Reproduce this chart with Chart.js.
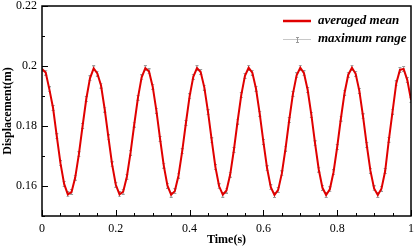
<!DOCTYPE html>
<html><head><meta charset="utf-8">
<script src="https://cdn.jsdelivr.net/npm/chart.js@4/dist/chart.umd.min.js"></script>
<style>html,body{margin:0;padding:0;background:#fff}canvas{display:block}</style>
</head><body>
<canvas id="c" width="416" height="248"></canvas>
<script>
const times = [0,0.01,0.02,0.03,0.04,0.05,0.06,0.07,0.08,0.09,0.1,0.11,0.12,0.13,0.14,0.15,0.16,0.17,0.18,0.19,0.2,0.21,0.22,0.23,0.24,0.25,0.26,0.27,0.28,0.29,0.3,0.31,0.32,0.33,0.34,0.35,0.36,0.37,0.38,0.39,0.4,0.41,0.42,0.43,0.44,0.45,0.46,0.47,0.48,0.49,0.5,0.51,0.52,0.53,0.54,0.55,0.56,0.57,0.58,0.59,0.6,0.61,0.62,0.63,0.64,0.65,0.66,0.67,0.68,0.69,0.7,0.71,0.72,0.73,0.74,0.75,0.76,0.77,0.78,0.79,0.8,0.81,0.82,0.83,0.84,0.85,0.86,0.87,0.88,0.89,0.9,0.91,0.92,0.93,0.94,0.95,0.96,0.97,0.98,0.99,1];
const averagedMean = [0.1990,0.1978,0.1922,0.1860,0.1766,0.1676,0.1607,0.1572,0.1580,0.1628,
0.1706,0.1800,0.1890,0.1959,0.1992,0.1975,0.1935,0.1855,0.1762,0.1672,
0.1604,0.1572,0.1581,0.1631,0.1711,0.1805,0.1894,0.1962,0.1993,0.1982,
0.1931,0.1851,0.1757,0.1668,0.1601,0.1571,0.1583,0.1635,0.1716,0.1810,
0.1899,0.1964,0.1993,0.1980,0.1928,0.1846,0.1752,0.1663,0.1599,0.1571,
0.1585,0.1638,0.1720,0.1815,0.1903,0.1967,0.1994,0.1978,0.1924,0.1841,
0.1747,0.1659,0.1596,0.1570,0.1587,0.1642,0.1725,0.1820,0.1907,0.1969,
0.1994,0.1976,0.1920,0.1837,0.1742,0.1655,0.1594,0.1570,0.1589,0.1646,
0.1730,0.1825,0.1911,0.1971,0.1994,0.1974,0.1917,0.1832,0.1737,0.1651,
0.1592,0.1570,0.1591,0.1650,0.1754,0.1848,0.1942,0.1987,0.1990,0.1953,
0.1887];
const maximumRange = averagedMean.slice();
const xTickLabels = ['0','0.2','0.4','0.6','0.8','1'];
const yTickLabels = ['0.16','0.18','0.2','0.22'];
const seriesNames = ['averaged mean','maximum range'];

// error-bar glyph
const eb = document.createElement('canvas'); eb.width = 5; eb.height = 6;
(function(){const g = eb.getContext('2d'); g.strokeStyle = '#9a9a9a'; g.lineWidth = 1;
 g.beginPath(); g.moveTo(2.5,0.5); g.lineTo(2.5,5.5); g.moveTo(1,0.5); g.lineTo(4,0.5); g.moveTo(1,5.5); g.lineTo(4,5.5); g.stroke();})();

const FONT = '"Liberation Serif","Times New Roman",serif';

const frame = {
  id: 'frame',
  afterDatasetsDraw(chart) {
    const {ctx, chartArea: a, scales: {x, y}} = chart;
    ctx.save();
    ctx.strokeStyle = '#000'; ctx.lineWidth = 1;
    ctx.beginPath();
    x.ticks.forEach(t => {
      const px = Math.round(x.getPixelForValue(t.value)) + 0.5;
      const major = Math.abs(t.value * 5 - Math.round(t.value * 5)) < 1e-6;
      const len = major ? 6 : 3;
      ctx.moveTo(px, a.bottom); ctx.lineTo(px, a.bottom - len);
    });
    y.ticks.forEach(t => {
      const py = Math.round(y.getPixelForValue(t.value)) + 0.5;
      const major = Math.abs(t.value * 50 - Math.round(t.value * 50)) < 1e-6;
      const len = major ? 6 : 3;
      ctx.moveTo(a.left, py); ctx.lineTo(a.left + len, py);
    });
    ctx.stroke();
    ctx.lineWidth = 1.5;
    ctx.strokeRect(a.left, a.top, a.right - a.left, a.bottom - a.top);
    // legend
    const lx0 = 283, lx1 = 311, tx = 318, y1 = 21, y2 = 39;
    ctx.strokeStyle = '#e00000'; ctx.lineWidth = 2.5;
    ctx.beginPath(); ctx.moveTo(lx0, y1); ctx.lineTo(lx1, y1); ctx.stroke();
    ctx.strokeStyle = '#c8c8c8'; ctx.lineWidth = 1;
    ctx.beginPath(); ctx.moveTo(lx0, y2 + 0.5); ctx.lineTo(lx1, y2 + 0.5); ctx.stroke();
    ctx.drawImage(eb, 295, y2 - 2);
    ctx.fillStyle = '#000'; ctx.font = 'italic bold 13px ' + FONT;
    ctx.textBaseline = 'middle'; ctx.textAlign = 'left';
    ctx.fillText(chart.data.datasets[0].label, tx, y1);
    ctx.fillText(chart.data.datasets[1].label, tx, y2);
    ctx.restore();
  }
};

new Chart(document.getElementById('c'), {
  type: 'line',
  data: {
    labels: times,
    datasets: [
      { label: seriesNames[0], data: times.map((t, i) => ({x: t, y: averagedMean[i]})),
        borderColor: '#e00000', borderWidth: 2, pointRadius: 0, tension: 0, order: 1 },
      { label: seriesNames[1], data: times.map((t, i) => ({x: t, y: maximumRange[i]})),
        showLine: false, borderColor: '#9a9a9a', pointStyle: eb, pointRadius: 3, order: 2 }
    ]
  },
  options: {
    responsive: false, animation: false, devicePixelRatio: 1,
    layout: { padding: { top: 6, right: 3, left: 0, bottom: 0 } },
    plugins: { legend: { display: false }, tooltip: { enabled: false } },
    scales: {
      x: {
        type: 'linear', min: 0, max: 1,
        grid: { display: false, drawTicks: false }, border: { display: false },
        ticks: { stepSize: 0.05, autoSkip: false, maxRotation: 0, padding: 6,
          color: '#000', font: { family: FONT, size: 12 },
          callback: v => { const k = Math.round(v * 5); return Math.abs(v * 5 - k) < 1e-6 ? xTickLabels[k] : ''; } },
        title: { display: true, text: 'Time(s)', color: '#000', padding: { top: 0, bottom: 1 },
          font: { family: FONT, size: 12, weight: 'bold' } },
        afterFit: s => { s.height = 32; s.paddingLeft = 0; s.paddingRight = 0; }
      },
      y: {
        min: 0.15, max: 0.22,
        grid: { display: false, drawTicks: false }, border: { display: false },
        ticks: { stepSize: 0.01, autoSkip: false, padding: 5, color: '#000',
          font: { family: FONT, size: 12 },
          callback: v => { const k = Math.round(v * 50); return (Math.abs(v * 50 - k) < 1e-6 && k >= 8) ? yTickLabels[k - 8] : ''; } },
        title: { display: true, text: 'Displacement(m)', color: '#000', padding: { top: 1, bottom: 0 },
          font: { family: FONT, size: 12, weight: 'bold' } },
        afterFit: s => { s.width = 42; s.paddingTop = 0; s.paddingBottom = 0; }
      }
    }
  },
  plugins: [frame]
});
</script>
</body></html>
